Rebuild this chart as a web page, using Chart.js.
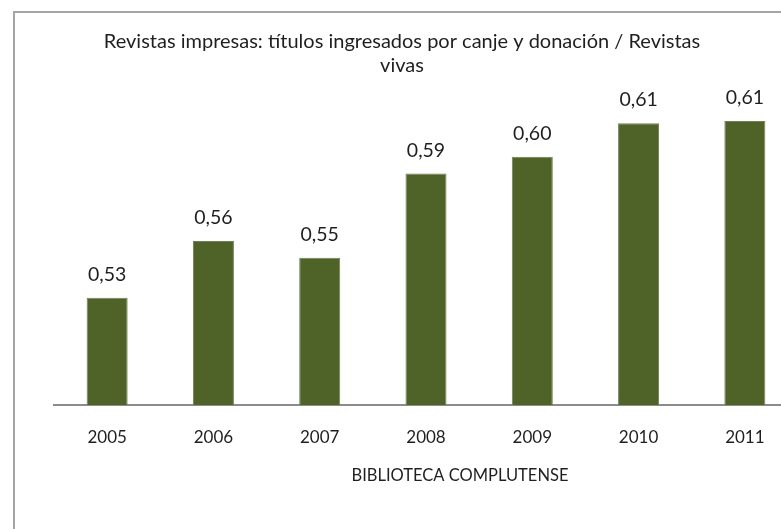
<!DOCTYPE html>
<html>
<head>
<meta charset="utf-8">
<script src="https://cdn.jsdelivr.net/npm/chart.js@4.4.0/dist/chart.umd.min.js"></script>
<style>
    html, body { margin: 0; padding: 0; background: #ffffff; overflow: hidden; width: 781px; height: 529px; }
    #frame { position: absolute; left: 13px; top: 11px; width: 900px; height: 600px; border-left: 2px solid #a5a5a5; border-top: 2px solid #a5a5a5; }
    #wrap { position: absolute; left: 0; top: 0; width: 840px; height: 560px; }
</style>
</head>
<body>
<div id="frame"></div>
<div id="wrap"><canvas id="chart" width="840" height="560"></canvas></div>
<script>
const years = ['2005', '2006', '2007', '2008', '2009', '2010', '2011'];
const ratios = [0.531, 0.558, 0.550, 0.590, 0.598, 0.614, 0.615];
const titleLines = ['Revistas impresas: títulos ingresados por canje y donación / Revistas', 'vivas'];
const axisTitle = 'BIBLIOTECA COMPLUTENSE';

const FONT = 'Lato, "Open Sans", sans-serif';
const TEXT_COLOR = '#1f1f1f';

const labelsPlugin = {
    id: 'barLabels',
    afterDatasetsDraw(chart) {
        const ctx = chart.ctx;
        const meta = chart.getDatasetMeta(0);
        ctx.save();
        ctx.fillStyle = TEXT_COLOR;
        ctx.font = '19.5px ' + FONT;
        ctx.textAlign = 'center';
        ctx.textBaseline = 'alphabetic';
        meta.data.forEach((bar, i) => {
            const txt = ratios[i].toFixed(2).replace('.', ',');
            ctx.fillText(txt, bar.x, bar.y - 17);
        });
        ctx.restore();
    }
};

const textPlugin = {
    id: 'chartTexts',
    afterDraw(chart) {
        const ctx = chart.ctx;
        ctx.save();
        ctx.fillStyle = TEXT_COLOR;
        ctx.textAlign = 'center';
        ctx.textBaseline = 'alphabetic';
        ctx.font = '20px ' + FONT;
        titleLines.forEach((line, i) => ctx.fillText(line, 402, 48 + i * 24));
        ctx.font = '16.5px ' + FONT;
        ctx.fillText(axisTitle, 460, 481);
        ctx.restore();
    }
};

new Chart(document.getElementById('chart').getContext('2d'), {
    type: 'bar',
    data: {
        labels: years,
        datasets: [{
            data: ratios,
            backgroundColor: '#4f6228',
            borderColor: '#6f7f55',
            borderWidth: 1,
            barPercentage: 0.386,
            categoryPercentage: 1
        }]
    },
    options: {
        responsive: false,
        animation: false,
        layout: { padding: { left: 54, right: 42, top: 100, bottom: 30 } },
        plugins: {
            legend: { display: false },
            title: { display: false },
            tooltip: { enabled: false }
        },
        scales: {
            x: {
                grid: { display: false, drawTicks: false },
                border: { display: true, color: '#8c8c8c', width: 2 },
                ticks: { color: TEXT_COLOR, font: { family: FONT, size: 17 }, padding: 22 },
                afterFit: s => { s.height = 125; }
            },
            y: {
                display: false,
                min: 0.48,
                max: 0.625
            }
        }
    },
    plugins: [labelsPlugin, textPlugin]
});
</script>
</body>
</html>
